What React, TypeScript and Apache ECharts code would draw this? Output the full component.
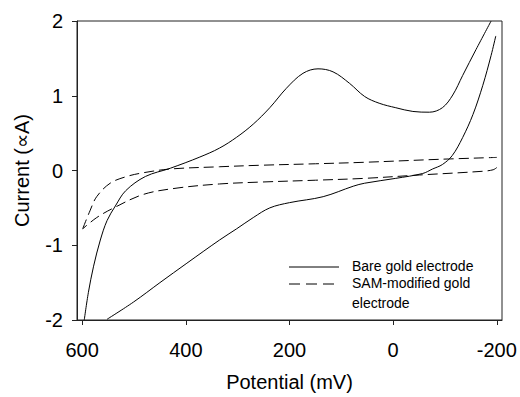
import React, { useEffect, useRef } from "react";
import * as echarts from "echarts";

// Potential (mV) / Current values
const bareForwardV = [596, 588, 578, 565, 552, 536, 516, 478, 430, 373, 335, 302, 270, 238, 206, 174, 145, 116, 84, 55, 27, -5, -38, -70, -95, -115, -134, -160, -189];
const bareForwardI = [-2.0, -1.63, -1.28, -0.93, -0.67, -0.475, -0.27, -0.08, 0.03, 0.18, 0.3, 0.445, 0.62, 0.84, 1.1, 1.3, 1.36, 1.32, 1.165, 0.99, 0.9, 0.84, 0.79, 0.78, 0.84, 1.01, 1.27, 1.62, 2.0];

const bareReturnV = [-198, -189, -173, -154, -134, -114, -95, -76, -57, -5, 55, 77, 135, 200, 238, 270, 302, 335, 398, 450, 501, 552];
const bareReturnI = [1.8, 1.54, 1.14, 0.75, 0.44, 0.2, 0.08, 0.02, -0.04, -0.105, -0.17, -0.21, -0.35, -0.43, -0.5, -0.63, -0.78, -0.93, -1.24, -1.5, -1.76, -1.99];

const samForwardV = [599, 585, 572, 546, 514, 482, 430, 335, 257, 150, 55, -90, -200];
const samForwardI = [-0.78, -0.54, -0.35, -0.17, -0.08, -0.03, 0.02, 0.05, 0.07, 0.09, 0.11, 0.15, 0.175];

const samReturnV = [-200, -193, -173, -51, 55, 150, 257, 335, 417, 482, 539, 572, 599];
const samReturnI = [0.04, 0.01, -0.01, -0.06, -0.105, -0.13, -0.155, -0.18, -0.235, -0.32, -0.5, -0.63, -0.78];

const xTicks = [600, 400, 200, 0, -200];
const yTicks = [-2, -1, 0, 1, 2];

const legendLabels = ["Bare gold electrode", "SAM-modified gold", "electrode"];

const zip = (a: number[], b: number[]) => a.map((v, i) => [v, b[i]]);

const FONT = "Liberation Sans, Arial, sans-serif";

export default function App() {
  const ref = useRef<HTMLDivElement>(null);
  useEffect(() => {
    document.body.style.margin = "0";
    if (!ref.current) return;
    const chart = echarts.init(ref.current, null, { renderer: "svg" });
    const solid = { color: "#000", width: 1, type: "solid" as const };
    const dashed = { color: "#000", width: 1, type: [10, 5] as any };
    chart.setOption({
      animation: false,
      grid: {
        left: 77,
        top: 21,
        right: 18,
        bottom: 70,
        show: true,
        borderColor: "#222",
        borderWidth: 1,
        backgroundColor: "transparent",
      },
      xAxis: {
        type: "value",
        inverse: true,
        min: -210,
        max: 610,
        name: "Potential (mV)",
        nameLocation: "middle",
        nameGap: 52,
        nameTextStyle: { fontFamily: FONT, fontSize: 20, color: "#000" },
        axisLine: { show: true, onZero: false, lineStyle: { color: "#222", width: 1 } },
        axisTick: { show: true, inside: false, length: 5, customValues: xTicks, lineStyle: { color: "#222" } },
        axisLabel: { customValues: xTicks, margin: 20, fontFamily: FONT, fontSize: 20, color: "#000" },
        splitLine: { show: false },
      },
      yAxis: {
        type: "value",
        min: -2,
        max: 2,
        interval: 1,
        name: "Current (∝A)",
        nameLocation: "middle",
        nameGap: 45,
        nameRotate: 90,
        nameTextStyle: { fontFamily: FONT, fontSize: 20, color: "#000" },
        axisLine: { show: true, onZero: false, lineStyle: { color: "#222", width: 1 } },
        axisTick: { show: true, inside: false, length: 5, customValues: yTicks, lineStyle: { color: "#222" } },
        axisLabel: { customValues: yTicks, margin: 14, fontFamily: FONT, fontSize: 20, color: "#000" },
        splitLine: { show: false },
      },
      series: [
        { type: "line", name: "Bare gold electrode", data: zip(bareForwardV, bareForwardI), showSymbol: false, symbol: "none", smooth: 0.35, lineStyle: solid, clip: true },
        { type: "line", name: "Bare gold electrode return", data: zip(bareReturnV, bareReturnI), showSymbol: false, symbol: "none", smooth: 0.35, lineStyle: solid, clip: true },
        { type: "line", name: "SAM-modified gold electrode", data: zip(samForwardV, samForwardI), showSymbol: false, symbol: "none", smooth: 0.35, lineStyle: dashed, clip: true },
        { type: "line", name: "SAM-modified gold electrode return", data: zip(samReturnV, samReturnI), showSymbol: false, symbol: "none", smooth: 0.35, lineStyle: dashed, clip: true },
      ],
      graphic: [
        { type: "line", shape: { x1: 289, y1: 267, x2: 339, y2: 267 }, style: { stroke: "#000", lineWidth: 1 } },
        { type: "line", shape: { x1: 289, y1: 284, x2: 340, y2: 284 }, style: { stroke: "#000", lineWidth: 1, lineDash: [11, 6] } },
        { type: "text", left: 352, top: 259, style: { text: legendLabels[0], fontFamily: FONT, fontSize: 14, fill: "#000" } },
        { type: "text", left: 352, top: 276, style: { text: legendLabels[1], fontFamily: FONT, fontSize: 14, fill: "#000" } },
        { type: "text", left: 352, top: 296, style: { text: legendLabels[2], fontFamily: FONT, fontSize: 14, fill: "#000" } },
      ],
    });
    return () => chart.dispose();
  }, []);
  return <div ref={ref} style={{ width: 520, height: 397 }} />;
}
